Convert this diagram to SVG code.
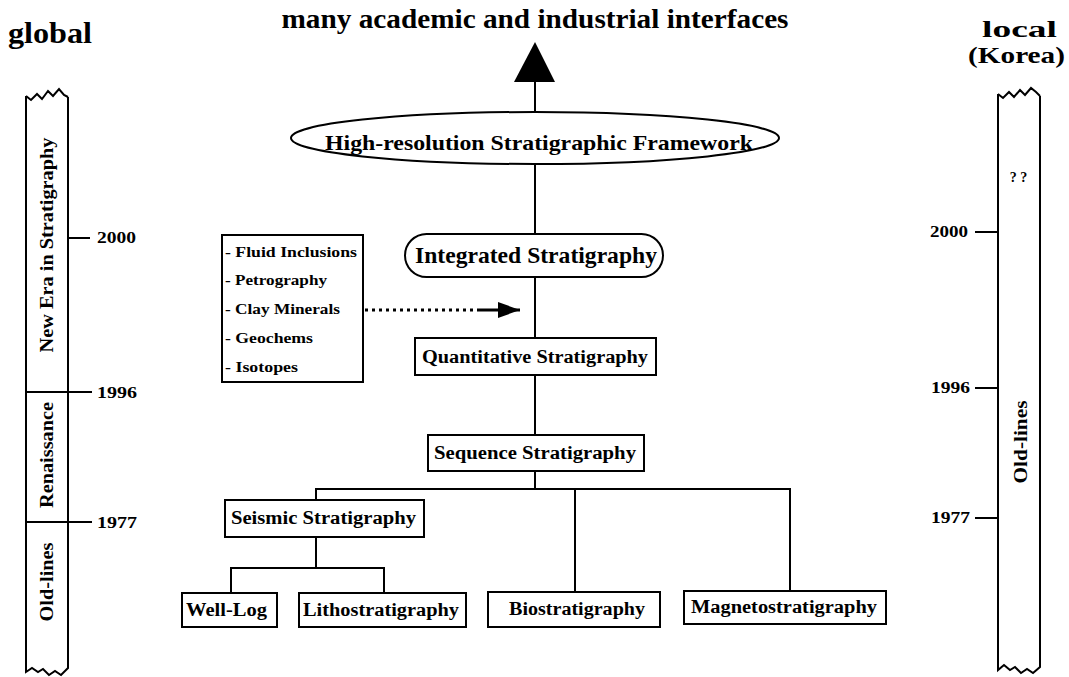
<svg xmlns="http://www.w3.org/2000/svg" width="1069" height="677" viewBox="0 0 1069 677">
<style>
text{font-family:"Liberation Serif","DejaVu Serif",serif;font-weight:bold;fill:#000}
.box{fill:#fff;stroke:#000;stroke-width:2}
.ln{stroke:#000;stroke-width:2;fill:none}
.t15{font-size:16.5px}
.t16{font-size:18.5px}
.t13{font-size:15px}
.rot{font-size:19.5px}
</style>
<defs>
<marker id="ah" markerWidth="22" markerHeight="16" refX="22" refY="8" orient="auto" markerUnits="userSpaceOnUse">
<path d="M0,0 L22,8 L0,16 Z" fill="#000"/>
</marker>
</defs>
<rect width="1069" height="677" fill="#fff"/>

<text x="535" y="28" font-size="28" text-anchor="middle" textLength="507" lengthAdjust="spacingAndGlyphs">many academic and industrial interfaces</text>
<text x="8" y="43" font-size="29" textLength="84" lengthAdjust="spacingAndGlyphs">global</text>
<text x="1019.5" y="37" font-size="23.5" text-anchor="middle" textLength="75" lengthAdjust="spacingAndGlyphs">local</text>
<text x="1016.5" y="63" font-size="23.5" text-anchor="middle" textLength="97" lengthAdjust="spacingAndGlyphs">(Korea)</text>

<g id="global-timeline">
<path class="ln" d="M26,96 L31,100 L37,94 L42,99 L48,91 L53,96 L59,89 L64,95 L68,97"/>
<path class="ln" d="M26,96 L26,672 L32,668 L38,672 L43,669 L49,675 L55,671 L61,675 L68,668 L68,97"/>
<line class="ln" x1="68" y1="238" x2="90" y2="238"/>
<line class="ln" x1="26" y1="392" x2="92" y2="392"/>
<line class="ln" x1="26" y1="522" x2="92" y2="522"/>
<text class="t15" x="97" y="243" textLength="39" lengthAdjust="spacingAndGlyphs">2000</text>
<text class="t15" x="97" y="398" textLength="40" lengthAdjust="spacingAndGlyphs">1996</text>
<text class="t15" x="97" y="528" textLength="40" lengthAdjust="spacingAndGlyphs">1977</text>
<text class="rot" text-anchor="middle" transform="translate(53,245) rotate(-90)" textLength="215" lengthAdjust="spacingAndGlyphs">New Era in Stratigraphy</text>
<text class="rot" text-anchor="middle" transform="translate(53,455) rotate(-90)" textLength="106" lengthAdjust="spacingAndGlyphs">Renaissance</text>
<text class="rot" text-anchor="middle" transform="translate(53,582) rotate(-90)" textLength="79" lengthAdjust="spacingAndGlyphs">Old-lines</text>
</g>

<g id="local-timeline">
<path class="ln" d="M998,94 L1003,98 L1009,92 L1014,97 L1020,90 L1025,95 L1031,88 L1036,92 L1040,96"/>
<path class="ln" d="M998,94 L998,670 L1004,665 L1010,670 L1015,667 L1021,673 L1027,669 L1033,673 L1040,667 L1040,96"/>
<line class="ln" x1="975" y1="232" x2="998" y2="232"/>
<line class="ln" x1="975" y1="388" x2="998" y2="388"/>
<line class="ln" x1="975" y1="518" x2="998" y2="518"/>
<text class="t15" x="968" y="237" text-anchor="end" textLength="38" lengthAdjust="spacingAndGlyphs">2000</text>
<text class="t15" x="970" y="393" text-anchor="end" textLength="39" lengthAdjust="spacingAndGlyphs">1996</text>
<text class="t15" x="970" y="523" text-anchor="end" textLength="39" lengthAdjust="spacingAndGlyphs">1977</text>
<text font-size="14" x="1018.5" y="182" text-anchor="middle">? ?</text>
<text class="rot" text-anchor="middle" transform="translate(1027,442) rotate(-90)" textLength="83" lengthAdjust="spacingAndGlyphs">Old-lines</text>
</g>

<g id="connectors">
<line class="ln" x1="535" y1="80" x2="535" y2="112"/>
<path d="M535,42 L555,82 L514,82 Z" fill="#000"/>
<line class="ln" x1="535" y1="164" x2="535" y2="234"/>
<line class="ln" x1="535" y1="277" x2="535" y2="338"/>
<line class="ln" x1="535" y1="375" x2="535" y2="435"/>
<line class="ln" x1="535" y1="471" x2="535" y2="489"/>
<polyline class="ln" points="316,500 316,489 790,489 790,591"/>
<line class="ln" x1="575" y1="489" x2="575" y2="592"/>
<line class="ln" x1="316" y1="537" x2="316" y2="568"/>
<polyline class="ln" points="231,593 231,568 384,568 384,593"/>
<line x1="365" y1="310" x2="480" y2="310" stroke="#000" stroke-width="3" stroke-dasharray="3 4"/>
<line x1="480" y1="310" x2="520" y2="310" stroke="#000" stroke-width="3" marker-end="url(#ah)"/>
</g>

<g id="node-framework">
<ellipse class="box" cx="535" cy="138" rx="244" ry="26"/>
<text x="539" y="150" font-size="21.5" text-anchor="middle" textLength="428" lengthAdjust="spacingAndGlyphs">High-resolution Stratigraphic Framework</text>
</g>
<g id="node-integrated">
<rect class="box" x="405" y="234" width="258" height="43" rx="21.5"/>
<text x="536" y="263" font-size="24" text-anchor="middle" textLength="242" lengthAdjust="spacingAndGlyphs">Integrated Stratigraphy</text>
</g>
<g id="node-methods">
<rect class="box" x="222" y="235" width="141" height="147"/>
<text class="t13" x="225" y="257" textLength="132" lengthAdjust="spacingAndGlyphs">- Fluid Inclusions</text>
<text class="t13" x="225" y="285" textLength="102" lengthAdjust="spacingAndGlyphs">- Petrography</text>
<text class="t13" x="225" y="314" textLength="115" lengthAdjust="spacingAndGlyphs">- Clay Minerals</text>
<text class="t13" x="225" y="343" textLength="88" lengthAdjust="spacingAndGlyphs">- Geochems</text>
<text class="t13" x="225" y="372" textLength="73" lengthAdjust="spacingAndGlyphs">- Isotopes</text>
</g>
<g id="node-quantitative">
<rect class="box" x="415" y="338" width="241" height="37"/>
<text class="t16" x="535" y="363" text-anchor="middle" textLength="226" lengthAdjust="spacingAndGlyphs">Quantitative Stratigraphy</text>
</g>
<g id="node-sequence">
<rect class="box" x="428" y="435" width="216" height="36"/>
<text class="t16" x="535" y="459" text-anchor="middle" textLength="202" lengthAdjust="spacingAndGlyphs">Sequence Stratigraphy</text>
</g>
<g id="node-seismic">
<rect class="box" x="225" y="500" width="199" height="37"/>
<text class="t16" x="323.5" y="524" text-anchor="middle" textLength="185" lengthAdjust="spacingAndGlyphs">Seismic Stratigraphy</text>
</g>
<g id="node-welllog">
<rect class="box" x="182" y="593" width="95" height="34"/>
<text class="t16" x="226.5" y="616" text-anchor="middle" textLength="81" lengthAdjust="spacingAndGlyphs">Well-Log</text>
</g>
<g id="node-litho">
<rect class="box" x="299" y="593" width="167" height="34"/>
<text class="t16" x="381" y="616" text-anchor="middle" textLength="156" lengthAdjust="spacingAndGlyphs">Lithostratigraphy</text>
</g>
<g id="node-bio">
<rect class="box" x="488" y="592" width="172" height="35"/>
<text class="t16" x="577" y="615" text-anchor="middle" textLength="136" lengthAdjust="spacingAndGlyphs">Biostratigraphy</text>
</g>
<g id="node-magneto">
<rect class="box" x="684" y="591" width="202" height="33"/>
<text class="t16" x="784" y="613" text-anchor="middle" textLength="186" lengthAdjust="spacingAndGlyphs">Magnetostratigraphy</text>
</g>
</svg>
